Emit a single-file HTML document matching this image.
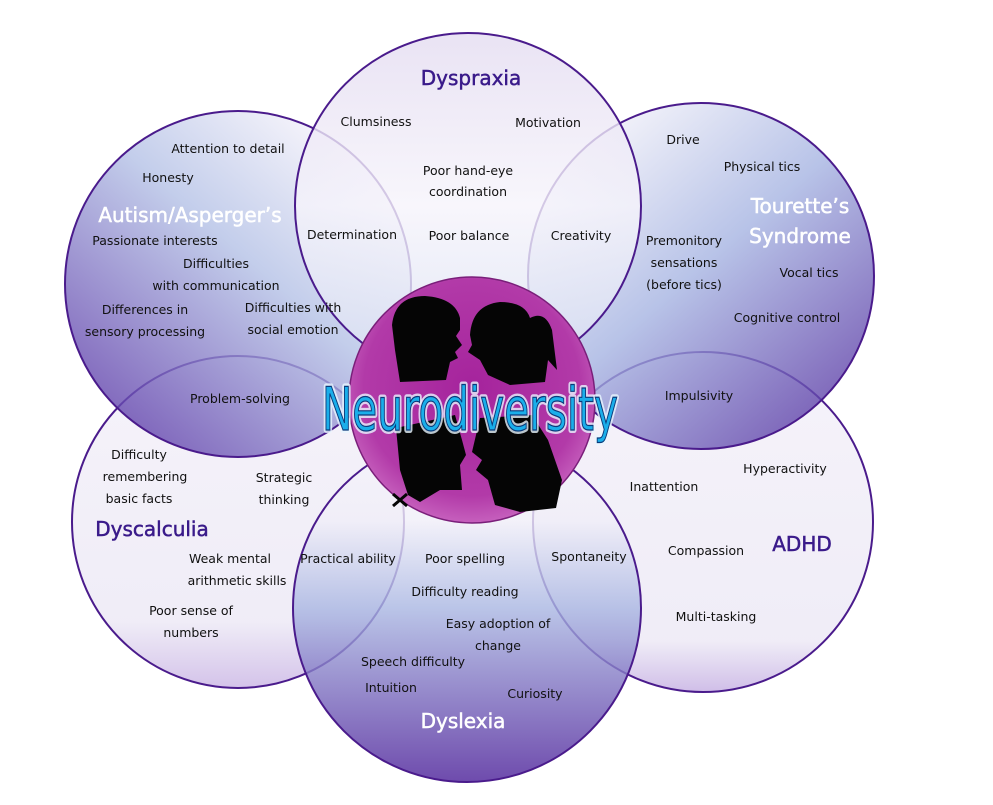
<!DOCTYPE html>
<html><head><meta charset="utf-8"><style>
html,body{margin:0;padding:0;background:#fff;width:993px;height:805px;overflow:hidden}
svg text{font-family:"DejaVu Sans","Liberation Sans",sans-serif}
.t{font-size:12.5px;fill:#111;text-anchor:middle}
.h{font-size:20px;fill:#3a1a8a;stroke:#3a1a8a;stroke-width:0.5;text-anchor:middle}
.hw{font-size:20px;fill:#fff;stroke:#fff;stroke-width:0.5;text-anchor:middle}
</style></head><body>
<svg width="993" height="805" viewBox="0 0 993 805" xmlns="http://www.w3.org/2000/svg">
<defs>
<linearGradient id="gA" x1="0.8" y1="0.1" x2="0.1" y2="0.9"><stop offset="0" stop-color="#f3f1fa"/><stop offset="0.4" stop-color="#b4c1e6"/><stop offset="1" stop-color="#5c3aa8"/></linearGradient>
<linearGradient id="gT" x1="0.2" y1="0.1" x2="0.9" y2="0.9"><stop offset="0" stop-color="#eeeef8"/><stop offset="0.45" stop-color="#a6b4e2"/><stop offset="1" stop-color="#5a3aa5"/></linearGradient>
<linearGradient id="gD" x1="0" y1="0" x2="0" y2="1"><stop offset="0" stop-color="#e4dcf1"/><stop offset="0.5" stop-color="#f6f4fb"/><stop offset="1" stop-color="#d8dff2"/></linearGradient>
<linearGradient id="gC" x1="0" y1="0" x2="0" y2="1"><stop offset="0" stop-color="#f3f0f9"/><stop offset="0.8" stop-color="#ece8f5"/><stop offset="1" stop-color="#c9b4e4"/></linearGradient>
<linearGradient id="gH" x1="0" y1="0" x2="0" y2="1"><stop offset="0" stop-color="#f3f0f9"/><stop offset="0.85" stop-color="#ece8f5"/><stop offset="1" stop-color="#c4aee2"/></linearGradient>
<linearGradient id="gX" x1="0" y1="0" x2="0" y2="1"><stop offset="0" stop-color="#f6f4fb"/><stop offset="0.25" stop-color="#f0eef8"/><stop offset="0.5" stop-color="#a9b6e2"/><stop offset="1" stop-color="#4a1e98"/></linearGradient>
<radialGradient id="gM" cx="0.5" cy="0.45" r="0.55"><stop offset="0" stop-color="#a5239c"/><stop offset="0.8" stop-color="#b23aa8"/><stop offset="1" stop-color="#c660bd"/></radialGradient>
</defs>
<g stroke="#4a1b8c" stroke-width="2" fill-opacity="0.8">
<circle cx="238" cy="522" r="166" fill="url(#gC)"/>
<circle cx="703" cy="522" r="170" fill="url(#gH)"/>
<circle cx="238" cy="284" r="173" fill="url(#gA)"/>
<circle cx="701" cy="276" r="173" fill="url(#gT)"/>
<circle cx="468" cy="206" r="173" fill="url(#gD)"/>
<circle cx="467" cy="608" r="174" fill="url(#gX)"/>
</g>
<circle cx="472" cy="400" r="123" fill="url(#gM)" stroke="#7a1f7a" stroke-width="1.5"/>
<g fill="#050505">
<path d="M392 325 Q395 296 425 296 Q455 298 460 318 L460 330 L456 336 L462 345 L455 352 L458 358 L450 362 L446 380 L400 382 L395 350 Z"/>
<path d="M470 335 Q472 305 500 302 Q525 302 530 318 Q545 310 552 330 L557 370 L548 360 L545 382 L510 385 L488 375 L480 360 L468 352 L472 345 Z"/>
<path d="M396 428 L455 415 L462 440 L466 455 L460 465 L462 490 L440 490 L420 502 L408 495 L400 470 Z"/>
<path d="M480 418 L532 415 L548 440 L562 480 L556 508 L520 512 L495 505 L488 480 L476 470 L482 460 L472 452 Z"/>
<path d="M393 494 L407 506 M407 494 L393 506" stroke="#050505" stroke-width="3"/>
</g>
<text x="470" y="430" text-anchor="middle" font-size="60" style="font-family:'DejaVu Sans Condensed','DejaVu Sans',sans-serif" textLength="296" lengthAdjust="spacingAndGlyphs" fill="#1aaeea" stroke="#e8f6ff" stroke-width="6" stroke-linejoin="round" stroke-opacity="0.8">Neurodiversity</text>
<text x="470" y="430" text-anchor="middle" font-size="60" style="font-family:'DejaVu Sans Condensed','DejaVu Sans',sans-serif" textLength="296" lengthAdjust="spacingAndGlyphs" fill="#1aaeea" stroke="#0a3a7a" stroke-width="1.2">Neurodiversity</text>
<text class="h" x="471" y="85">Dyspraxia</text>
<text class="hw" x="190" y="222">Autism/Asperger’s</text>
<text class="hw" x="800" y="213">Tourette’s</text>
<text class="hw" x="800" y="243">Syndrome</text>
<text class="h" x="152" y="536">Dyscalculia</text>
<text class="h" x="802" y="551">ADHD</text>
<text class="hw" x="463" y="728">Dyslexia</text>
<g class="t">
<text x="376" y="126">Clumsiness</text>
<text x="548" y="127">Motivation</text>
<text x="468" y="175">Poor hand-eye</text>
<text x="468" y="196">coordination</text>
<text x="352" y="239">Determination</text>
<text x="469" y="240">Poor balance</text>
<text x="581" y="240">Creativity</text>
<text x="228" y="153">Attention to detail</text>
<text x="168" y="182">Honesty</text>
<text x="155" y="245">Passionate interests</text>
<text x="216" y="268">Difficulties</text>
<text x="216" y="290">with communication</text>
<text x="145" y="314">Differences in</text>
<text x="145" y="336">sensory processing</text>
<text x="293" y="312">Difficulties with</text>
<text x="293" y="334">social emotion</text>
<text x="683" y="144">Drive</text>
<text x="762" y="171">Physical tics</text>
<text x="684" y="245">Premonitory</text>
<text x="684" y="267">sensations</text>
<text x="684" y="289">(before tics)</text>
<text x="809" y="277">Vocal tics</text>
<text x="787" y="322">Cognitive control</text>
<text x="240" y="403">Problem-solving</text>
<text x="699" y="400">Impulsivity</text>
<text x="139" y="459">Difficulty</text>
<text x="145" y="481">remembering</text>
<text x="139" y="503">basic facts</text>
<text x="284" y="482">Strategic</text>
<text x="284" y="504">thinking</text>
<text x="230" y="563">Weak mental</text>
<text x="237" y="585">arithmetic skills</text>
<text x="191" y="615">Poor sense of</text>
<text x="191" y="637">numbers</text>
<text x="785" y="473">Hyperactivity</text>
<text x="664" y="491">Inattention</text>
<text x="706" y="555">Compassion</text>
<text x="716" y="621">Multi-tasking</text>
<text x="348" y="563">Practical ability</text>
<text x="465" y="563">Poor spelling</text>
<text x="589" y="561">Spontaneity</text>
<text x="465" y="596">Difficulty reading</text>
<text x="498" y="628">Easy adoption of</text>
<text x="498" y="650">change</text>
<text x="413" y="666">Speech difficulty</text>
<text x="391" y="692">Intuition</text>
<text x="535" y="698">Curiosity</text>
</g>
</svg>
</body></html>
